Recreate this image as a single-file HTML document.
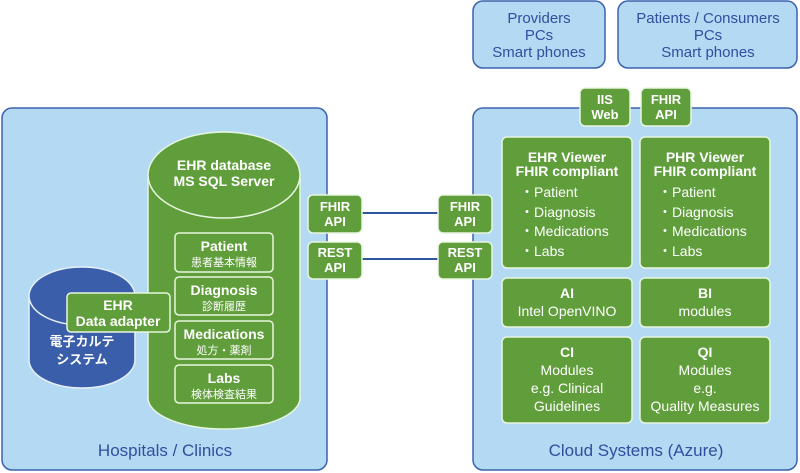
<!DOCTYPE html>
<html><head><meta charset="utf-8"><style>
html,body{margin:0;padding:0;background:#fff;}
svg{display:block;}
text{font-family:"Liberation Sans","Noto Sans CJK JP",sans-serif;}
</style></head><body>
<svg width="800" height="473" viewBox="0 0 800 473" xmlns="http://www.w3.org/2000/svg">
<g stroke="#3b63ad" stroke-width="1.5" fill="#b3d9f3">
<rect x="2" y="108" width="325" height="362" rx="10"/>
<rect x="473" y="108" width="324" height="362" rx="10"/>
<rect x="473" y="1" width="132" height="67" rx="10"/>
<rect x="618" y="1" width="179" height="67" rx="10"/>
</g>
<g stroke="#2f55a0" stroke-width="2">
<line x1="362" y1="213" x2="438" y2="213"/>
<line x1="362" y1="259" x2="438" y2="259"/>
</g>
<g fill="#2f4f9f" font-size="15" text-anchor="middle">
<text x="539" y="23">Providers</text><text x="539" y="40">PCs</text><text x="539" y="57">Smart phones</text>
<text x="708" y="23">Patients / Consumers</text><text x="708" y="40">PCs</text><text x="708" y="57">Smart phones</text>
<text x="165" y="456" font-size="17">Hospitals / Clinics</text>
<text x="636" y="456" font-size="17">Cloud Systems (Azure)</text>
</g>
<g stroke="#e8f0fa" stroke-width="1.5">
<path d="M29 296 L29 360 A53 28 0 0 0 135 360 L135 296" fill="#3a5ea9"/>
<ellipse cx="82" cy="296" rx="53" ry="29" fill="#3a5ea9"/>
</g>
<text x="82" y="346" fill="#fff" font-size="13" font-weight="bold" text-anchor="middle">電子カルテ</text>
<text x="82" y="364" fill="#fff" font-size="13" font-weight="bold" text-anchor="middle">システム</text>
<g stroke="#e8f5e0" stroke-width="1.5" fill="#609e3b">
<path d="M148 175 L148 398 A76 31 0 0 0 300 398 L300 175"/>
<ellipse cx="224" cy="175" rx="76" ry="43"/>
</g>
<g fill="#fff" text-anchor="middle" font-size="14" font-weight="bold">
<text x="224" y="170">EHR database</text><text x="224" y="186">MS SQL Server</text>
</g>
<g stroke="#e8f5e0" stroke-width="1.5" fill="#609e3b">
<rect x="175" y="233" width="98" height="39" rx="4"/>
<rect x="175" y="277" width="98" height="38" rx="4"/>
<rect x="175" y="321" width="98" height="38" rx="4"/>
<rect x="175" y="365" width="98" height="38" rx="4"/>
<rect x="67" y="293" width="103" height="39" rx="4"/>
<rect x="308" y="195" width="54" height="38" rx="5"/>
<rect x="308" y="242" width="54" height="37" rx="5"/>
<rect x="438" y="195" width="54" height="38" rx="5"/>
<rect x="438" y="242" width="54" height="37" rx="5"/>
<rect x="580" y="88" width="50" height="38" rx="5"/>
<rect x="641" y="88" width="50" height="38" rx="5"/>
<rect x="502" y="137" width="130" height="131" rx="5"/>
<rect x="640" y="137" width="130" height="131" rx="5"/>
<rect x="502" y="278" width="130" height="49" rx="5"/>
<rect x="640" y="278" width="130" height="49" rx="5"/>
<rect x="502" y="337" width="130" height="86" rx="5"/>
<rect x="640" y="337" width="130" height="86" rx="5"/>
</g>
<g fill="#fff" text-anchor="middle" font-size="14">
<g font-weight="bold">
<text x="224" y="251">Patient</text>
<text x="224" y="295">Diagnosis</text>
<text x="224" y="339">Medications</text>
<text x="224" y="383">Labs</text>
<text x="118" y="310">EHR</text><text x="118" y="326">Data adapter</text>
</g>
<text x="224" y="266" font-size="11">患者基本情報</text>
<text x="224" y="310" font-size="11">診断履歴</text>
<text x="224" y="354" font-size="11">処方・薬剤</text>
<text x="224" y="398" font-size="11">検体検査結果</text>
<g font-weight="bold" font-size="13">
<text x="335" y="211">FHIR</text><text x="335" y="226">API</text>
<text x="335" y="257">REST</text><text x="335" y="272">API</text>
<text x="465" y="211">FHIR</text><text x="465" y="226">API</text>
<text x="465" y="257">REST</text><text x="465" y="272">API</text>
<text x="605" y="104">IIS</text><text x="605" y="119">Web</text>
<text x="666" y="104">FHIR</text><text x="666" y="119">API</text>
<text x="567" y="162" font-size="14">EHR Viewer</text><text x="567" y="176" font-size="14">FHIR compliant</text>
<text x="705" y="162" font-size="14">PHR Viewer</text><text x="705" y="176" font-size="14">FHIR compliant</text>
<text x="567" y="298" font-size="14">AI</text><text x="705" y="298" font-size="14">BI</text>
<text x="567" y="357" font-size="14">CI</text><text x="705" y="357" font-size="14">QI</text>
</g>
<text x="567" y="316">Intel OpenVINO</text><text x="705" y="316">modules</text>
<text x="567" y="375">Modules</text><text x="567" y="393">e.g. Clinical</text><text x="567" y="411">Guidelines</text>
<text x="705" y="375">Modules</text><text x="705" y="393">e.g.</text><text x="705" y="411">Quality Measures</text>
</g>
<g fill="#fff" font-size="14">
<text x="520" y="197">・Patient</text><text x="520" y="217">・Diagnosis</text><text x="520" y="236">・Medications</text><text x="520" y="256">・Labs</text>
<text x="658" y="197">・Patient</text><text x="658" y="217">・Diagnosis</text><text x="658" y="236">・Medications</text><text x="658" y="256">・Labs</text>
</g>
</svg>
</body></html>
